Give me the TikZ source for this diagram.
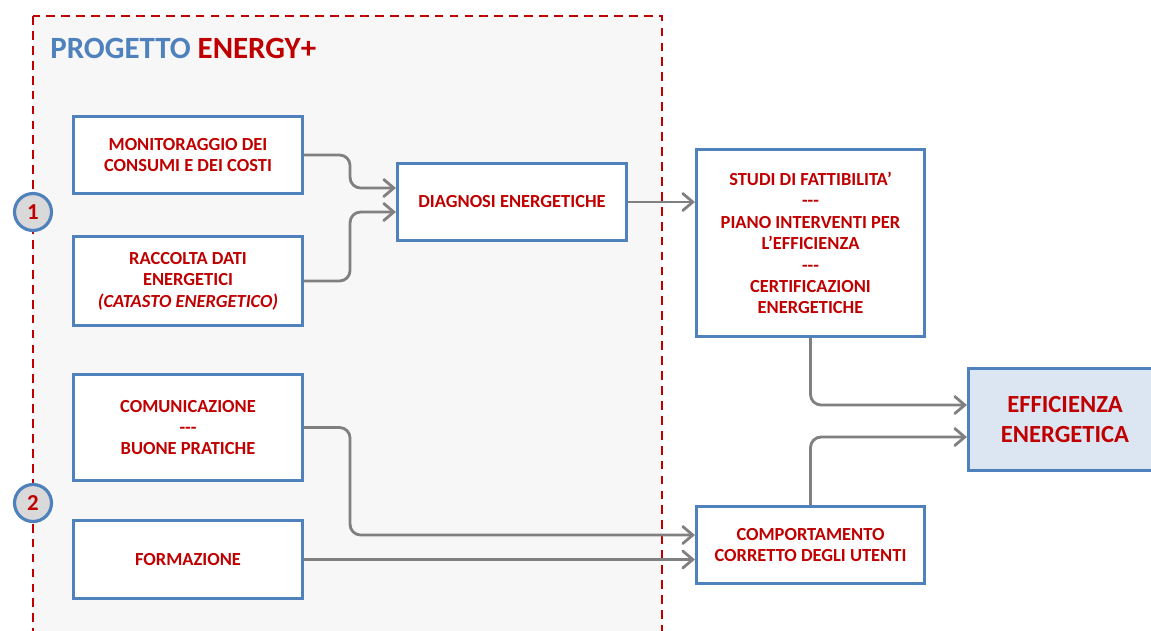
\documentclass[tikz,border=0pt]{standalone}
\usepackage{fontspec}
\setmainfont{Carlito}
\usepackage{xcolor}
\usetikzlibrary{arrows.meta}
\definecolor{boxblue}{HTML}{4F81BD}
\definecolor{darkred}{HTML}{C00000}
\definecolor{panelgray}{HTML}{F7F7F7}
\definecolor{effblue}{HTML}{DCE6F2}
\definecolor{arrowgray}{HTML}{808080}
\definecolor{circgray}{HTML}{D9D9D9}
\newcommand{\sep}{-{}-{}-}

\begin{document}
\begin{tikzpicture}[x=0.02cm, y=-0.02cm,
    blok/.style={draw=boxblue, line width=1.8pt, fill=white, text=darkred, align=center,
        font=\fontsize{10.5}{12.2}\selectfont\bfseries, minimum width=4.58cm, minimum height=1.54cm, inner sep=2pt},
    fase/.style={circle, draw=boxblue, line width=1.8pt, fill=circgray, text=darkred,
        font=\fontsize{13}{15}\selectfont\bfseries, minimum size=0.74cm, inner sep=0pt},
    flow/.style={draw=arrowgray, line width=1.6pt, rounded corners=6pt,
        -{Straight Barb[length=0.2cm, width=0.34cm, line cap=round]}}]
    \useasboundingbox (0,0) rectangle (1151,630);
    \draw[darkred, fill=panelgray, line width=1.3pt, dash pattern=on 5pt off 3.5pt] (33,16) rectangle (662,660);
    \node[anchor=base west, inner sep=0pt, font=\fontsize{17.6}{20}\selectfont\bfseries] (titolo) at (50,58)
        {\textcolor{boxblue}{PROGETTO} \textcolor{darkred}{ENERGY+}};

    \node[blok] (mon) at (188,155) {MONITORAGGIO DEI\\CONSUMI E DEI COSTI};
    \node[blok, minimum height=1.78cm] (rac) at (188,281) {RACCOLTA DATI\\ENERGETICI\\\textit{(CATASTO ENERGETICO)}};
    \node[blok] (diag) at (512,202) {DIAGNOSI ENERGETICHE};
    \node[blok, minimum width=4.56cm, minimum height=3.74cm] (studi) at (810.5,243)
        {STUDI DI FATTIBILITA’\\\sep\\PIANO INTERVENTI PER\\L’EFFICIENZA\\\sep\\CERTIFICAZIONI\\ENERGETICHE};
    \node[blok, minimum height=2.12cm] (com) at (188,427.5) {COMUNICAZIONE\\\sep\\BUONE PRATICHE};
    \node[blok, minimum height=1.56cm] (form) at (188,559.5) {FORMAZIONE};
    \node[blok, minimum width=4.56cm] (comp) at (810.5,545) {COMPORTAMENTO\\CORRETTO DEGLI UTENTI};
    \node[blok, fill=effblue, minimum width=3.86cm, minimum height=2.04cm,
        font=\fontsize{14}{17}\selectfont\bfseries] (eff) at (1065,419.5) {EFFICIENZA\\ENERGETICA};

    \node[fase] (uno) at (33,212) {1};
    \node[fase] (due) at (33,503) {2};

    \draw[flow] (mon.east) -- ++(46,0) |- ([yshift=0.28cm]diag.west);
    \draw[flow] (rac.east) -- ++(46,0) |- ([yshift=-0.2cm]diag.west);
    \draw[flow] (diag.east) -- (diag.east -| studi.west);
    \draw[flow] (studi.south) |- ([yshift=0.29cm]eff.west);
    \draw[flow] (comp.north) |- ([yshift=-0.35cm]eff.west);
    \draw[flow] (com.east) -- ++(46,0) |- ([yshift=0.2cm]comp.west);
    \draw[flow] (form.east) -- (form.east -| comp.west);
\end{tikzpicture}
\end{document}
